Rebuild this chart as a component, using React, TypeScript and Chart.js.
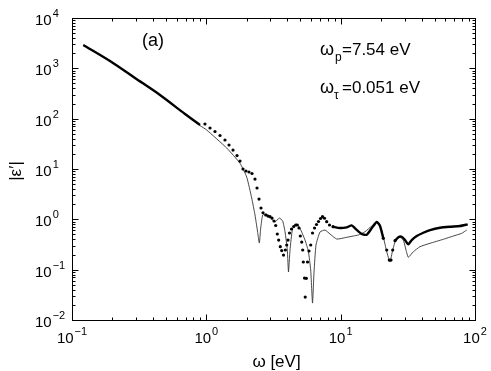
import React, { useEffect, useRef } from "react";
import { Chart, registerables } from "chart.js";

Chart.register(...registerables);

// measured |eps'| : densely sampled low-frequency part
const denseLowOmega = [0.1214, 0.1918, 0.2944, 0.4519, 0.6937, 0.897];
const denseLowEps = [2908, 1398, 642, 295, 123.7, 74.8];

// measured |eps'| : individually visible points
const sparseOmega = [
  0.977, 1.065, 1.16, 1.264, 1.377, 1.475, 1.58, 1.692, 1.781, 1.875,
  1.974, 2.078, 2.188, 2.303, 2.384, 2.467, 2.553, 2.642, 2.767, 2.878,
  2.979, 3.083, 3.19, 3.284, 3.376, 3.456, 3.553, 3.64, 3.754, 3.873,
  3.967, 4.055, 4.16, 4.305, 4.471, 4.627, 4.756, 4.897, 5.008, 5.129,
  5.218, 5.272, 5.383, 5.552, 5.445, 5.667, 5.812, 5.984, 6.172, 6.388,
  6.609, 6.839, 7.078, 7.325, 7.58, 7.872, 8.258, 8.77,
  20.77, 22.02, 23.02, 23.7, 24.4, 25.39,
];
const sparseEps = [
  78.3, 65.2, 55.6, 46.3, 37.7, 30.0, 23.8, 18.5, 14.4, 10.0,
  9.12, 8.71, 8.14, 6.32, 4.19, 2.53, 1.68, 1.35, 1.22, 1.16,
  1.13, 1.06, 0.926, 0.754, 0.511, 0.388, 0.286, 0.24, 0.195, 0.246,
  0.309, 0.388, 0.535, 0.642, 0.72, 0.771, 0.771, 0.672, 0.466, 0.354,
  0.246, 0.142, 0.0682, 0.0673, 0.0286, 0.142, 0.235, 0.309, 0.535, 0.672,
  0.789, 0.905, 1.04, 1.13, 1.05, 0.897, 0.771, 0.714,
  0.42, 0.246, 0.155, 0.155, 0.246, 0.376,
];

// measured |eps'| : densely sampled high-frequency parts
const denseMidOmega = [8.77, 9.888, 11.09, 12.08, 12.79, 14.35, 15.63, 17.02, 18.55, 19.63, 20.77];
const denseMidEps = [0.714, 0.672, 0.694, 0.76, 0.663, 0.511, 0.495, 0.663, 0.885, 0.736, 0.42];
const denseHighOmega = [25.39, 26.86, 28.47, 30.13, 31.88, 33.79, 36.83, 41.23, 46.25, 54.89, 65.16, 77.33, 88.26];
const denseHighEps = [0.376, 0.439, 0.451, 0.388, 0.319, 0.388, 0.466, 0.542, 0.613, 0.682, 0.714, 0.736, 0.796];

// model curve
const modelOmega = [
  0.1214, 0.1918, 0.2944, 0.4519, 0.6937, 0.897, 1.006, 1.418, 1.781, 1.998,
  2.176, 2.303, 2.397, 2.48, 2.54, 2.629, 2.815, 3.066, 3.245, 3.493,
  3.703, 3.852, 4.007, 4.089, 4.197, 4.38, 4.708, 4.981, 5.427, 5.742,
  5.984, 6.172, 6.334, 6.552, 7.017, 7.645, 8.33, 9.344, 11.09, 12.42,
  13.53, 15.18, 17.02, 18.55, 19.63, 20.77, 22.02, 23.3, 24.4, 25.82,
  27.66, 29.27, 30.64, 31.88, 34.74, 38.96, 46.25, 58.08, 68.96, 79.62, 86.77,
];
const modelEps = [
  2908, 1398, 642, 295, 123.7, 73, 59.5, 26.1, 12.97, 6.93,
  2.65, 1.22, 0.613, 0.338, 0.672, 1.22, 1.27, 1.015, 0.885, 1.06,
  0.926, 0.568, 0.246, 0.0898, 0.246, 0.642, 0.807, 0.663, 0.388, 0.235,
  0.0984, 0.0217, 0.0898, 0.309, 0.56, 0.613, 0.511, 0.406, 0.439, 0.466,
  0.488, 0.568, 0.736, 0.897, 0.771, 0.451, 0.227, 0.144, 0.246, 0.401,
  0.439, 0.388, 0.246, 0.176, 0.227, 0.286, 0.334, 0.401, 0.466, 0.527, 0.613,
];

const xExponents = [-1, 0, 1, 2];
const yExponents = [-2, -1, 0, 1, 2, 3, 4];

const FONT_FAMILY = "'Liberation Sans', Arial, Helvetica, sans-serif";

const pts = (xs: number[], ys: number[]) => xs.map((x, i) => ({ x, y: ys[i] }));

function drawPow(ctx: CanvasRenderingContext2D, exp: number, x: number, baseline: number, align: "left" | "center") {
  const base = "10";
  const sup = exp < 0 ? "\u2212" + Math.abs(exp) : String(exp);
  ctx.font = `15px ${FONT_FAMILY}`;
  const wb = ctx.measureText(base).width;
  ctx.font = `11px ${FONT_FAMILY}`;
  const ws = ctx.measureText(sup).width;
  const x0 = align === "center" ? x - (wb + 1 + ws) / 2 : x;
  ctx.font = `15px ${FONT_FAMILY}`;
  ctx.fillText(base, x0, baseline);
  ctx.font = `11px ${FONT_FAMILY}`;
  ctx.fillText(sup, x0 + wb + 1, baseline - 8);
}

const framePlugin = {
  id: "frameAndLabels",
  afterDraw(chart: any) {
    const { ctx, chartArea: a, scales } = chart;
    const xs = scales.x;
    const ys = scales.y;
    const L = Math.round(a.left) + 0.5;
    const R = Math.round(a.right) + 0.5;
    const T = Math.round(a.top) + 0.5;
    const B = Math.round(a.bottom) + 0.5;
    ctx.save();
    ctx.strokeStyle = "#000";
    ctx.lineWidth = 1;
    ctx.strokeRect(L, T, R - L, B - T);
    ctx.beginPath();
    for (const e of xExponents) {
      for (let k = 1; k <= 9; k++) {
        const v = k * Math.pow(10, e);
        if (v > 100.0001) break;
        const px = Math.round(xs.getPixelForValue(v)) + 0.5;
        const len = k === 1 ? 6 : 3;
        ctx.moveTo(px, B);
        ctx.lineTo(px, B - len);
        ctx.moveTo(px, T);
        ctx.lineTo(px, T + len);
      }
    }
    for (const e of yExponents) {
      for (let k = 1; k <= 9; k++) {
        const v = k * Math.pow(10, e);
        if (v > 10000.001) break;
        const py = Math.round(ys.getPixelForValue(v)) + 0.5;
        const len = k === 1 ? 6 : 3;
        ctx.moveTo(L, py);
        ctx.lineTo(L + len, py);
        ctx.moveTo(R, py);
        ctx.lineTo(R - len, py);
      }
    }
    ctx.stroke();

    ctx.fillStyle = "#000";
    ctx.textAlign = "left";
    ctx.textBaseline = "alphabetic";
    for (const e of xExponents) {
      drawPow(ctx, e, xs.getPixelForValue(Math.pow(10, e)), 343, "center");
    }
    for (const e of yExponents) {
      drawPow(ctx, e, 35, ys.getPixelForValue(Math.pow(10, e)) + 7, "left");
    }

    // axis titles
    ctx.font = `17px ${FONT_FAMILY}`;
    ctx.textAlign = "center";
    ctx.fillText("\u03c9 [eV]", (a.left + a.right) / 2 + 3, 367);
    ctx.save();
    ctx.translate(21, (a.top + a.bottom) / 2 + 2);
    ctx.rotate(-Math.PI / 2);
    ctx.fillText("|\u03b5\u2032|", 0, 0);
    ctx.restore();

    // annotations
    ctx.textAlign = "left";
    ctx.font = `18px ${FONT_FAMILY}`;
    ctx.fillText("(a)", 142, 46);
    ctx.fillText("\u03c9", 320, 55);
    ctx.fillText("\u03c9", 320, 93);
    ctx.font = `12px ${FONT_FAMILY}`;
    ctx.fillText("p", 335, 61);
    ctx.fillText("\u03c4", 334, 99);
    ctx.font = `17px ${FONT_FAMILY}`;
    ctx.fillText("=7.54 eV", 342, 55);
    ctx.fillText("=0.051 eV", 342, 93);
    ctx.restore();
  },
};

export default function App() {
  const ref = useRef<HTMLCanvasElement | null>(null);
  useEffect(() => {
    if (!ref.current) return;
    const chart = new Chart(ref.current, {
      type: "scatter",
      data: {
        datasets: [
          {
            label: "measured (dense, low)",
            data: pts(denseLowOmega, denseLowEps),
            showLine: true,
            borderColor: "#000",
            borderWidth: 2.4,
            tension: 0.3,
            pointRadius: 0,
            order: 1,
          },
          {
            label: "measured",
            data: pts(sparseOmega, sparseEps),
            showLine: false,
            pointRadius: 1.6,
            pointBackgroundColor: "#000",
            pointBorderWidth: 0,
            order: 1,
          },
          {
            label: "measured (dense, mid)",
            data: pts(denseMidOmega, denseMidEps),
            showLine: true,
            borderColor: "#000",
            borderWidth: 2.4,
            tension: 0.2,
            pointRadius: 0,
            order: 1,
          },
          {
            label: "measured (dense, high)",
            data: pts(denseHighOmega, denseHighEps),
            showLine: true,
            borderColor: "#000",
            borderWidth: 2.4,
            tension: 0.2,
            pointRadius: 0,
            order: 1,
          },
          {
            label: "model",
            data: pts(modelOmega, modelEps),
            showLine: true,
            borderColor: "#333",
            borderWidth: 0.9,
            tension: 0.15,
            pointRadius: 0,
            order: 2,
          },
        ],
      },
      options: {
        animation: false,
        responsive: false,
        layout: { padding: { left: 0, right: 16, top: 18, bottom: 0 } },
        plugins: { legend: { display: false }, tooltip: { enabled: false } },
        scales: {
          x: {
            type: "logarithmic",
            min: 0.1,
            max: 100,
            grid: { display: false },
            border: { display: false },
            ticks: { display: false },
            afterFit: (s: any) => {
              s.height = 51;
            },
          },
          y: {
            type: "logarithmic",
            min: 0.01,
            max: 10000,
            grid: { display: false },
            border: { display: false },
            ticks: { display: false },
            afterFit: (s: any) => {
              s.width = 72;
            },
          },
        },
      },
      plugins: [framePlugin],
    });
    return () => chart.destroy();
  }, []);
  return (
    <div style={{ position: "fixed", left: 0, top: 0, width: 491, height: 371, background: "#fff" }}>
      <canvas ref={ref} width={491} height={371} style={{ display: "block" }} />
    </div>
  );
}
